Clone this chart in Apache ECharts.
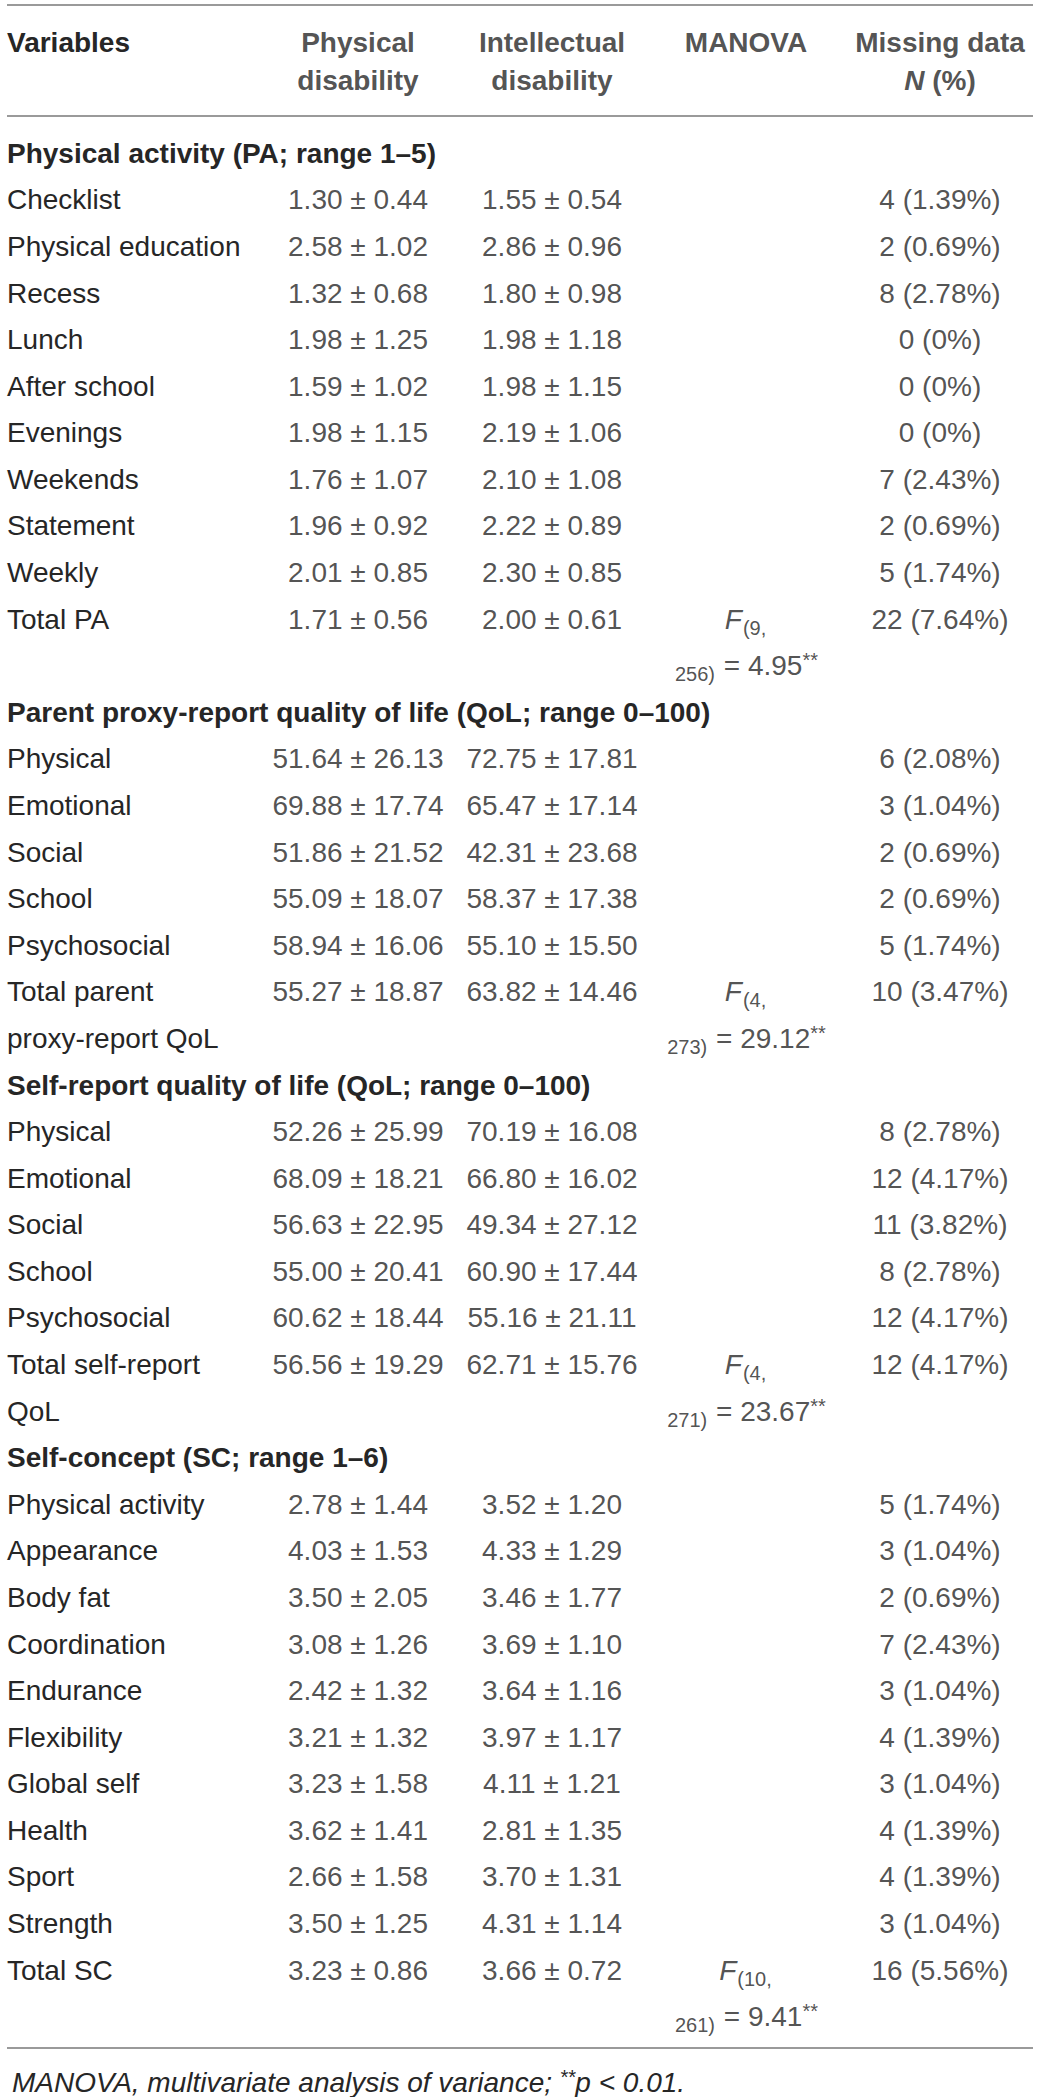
<!DOCTYPE html>
<html>
<head>
<meta charset="utf-8">
<title>PA, QoL and self-concept by disability group</title>
<script src="https://cdn.jsdelivr.net/npm/echarts@6/dist/echarts.min.js"></script>
<style>
  html, body { margin: 0; padding: 0; background: #fff; }
  #main { width: 1040px; height: 2097px; }
</style>
</head>
<body>
<div id="main"></div>
<script>
// ---- table data ----
var colHeads = [['Physical', 'disability'], ['Intellectual', 'disability'], ['MANOVA', ''], ['Missing data', '{i|N} (%)']];

// Physical activity
var paHead = 'Physical activity (PA; range 1–5)';
var paVars = ['Checklist', 'Physical education', 'Recess', 'Lunch', 'After school', 'Evenings', 'Weekends', 'Statement', 'Weekly', 'Total PA'];
var paPhysMean = [1.30, 2.58, 1.32, 1.98, 1.59, 1.98, 1.76, 1.96, 2.01, 1.71];
var paPhysSd = [0.44, 1.02, 0.68, 1.25, 1.02, 1.15, 1.07, 0.92, 0.85, 0.56];
var paIntMean = [1.55, 2.86, 1.80, 1.98, 1.98, 2.19, 2.10, 2.22, 2.30, 2.00];
var paIntSd = [0.54, 0.96, 0.98, 1.18, 1.15, 1.06, 1.08, 0.89, 0.85, 0.61];
var paMissN = [4, 2, 8, 0, 0, 0, 7, 2, 5, 22];
var paMissPct = [1.39, 0.69, 2.78, 0, 0, 0, 2.43, 0.69, 1.74, 7.64];
var paManova = [9, 256, 4.95];

// Parent proxy-report QoL
var pqHead = 'Parent proxy-report quality of life (QoL; range 0–100)';
var pqVars = ['Physical', 'Emotional', 'Social', 'School', 'Psychosocial', 'Total parent\nproxy-report QoL'];
var pqPhysMean = [51.64, 69.88, 51.86, 55.09, 58.94, 55.27];
var pqPhysSd = [26.13, 17.74, 21.52, 18.07, 16.06, 18.87];
var pqIntMean = [72.75, 65.47, 42.31, 58.37, 55.10, 63.82];
var pqIntSd = [17.81, 17.14, 23.68, 17.38, 15.50, 14.46];
var pqMissN = [6, 3, 2, 2, 5, 10];
var pqMissPct = [2.08, 1.04, 0.69, 0.69, 1.74, 3.47];
var pqManova = [4, 273, 29.12];

// Self-report QoL
var sqHead = 'Self-report quality of life (QoL; range 0–100)';
var sqVars = ['Physical', 'Emotional', 'Social', 'School', 'Psychosocial', 'Total self-report\nQoL'];
var sqPhysMean = [52.26, 68.09, 56.63, 55.00, 60.62, 56.56];
var sqPhysSd = [25.99, 18.21, 22.95, 20.41, 18.44, 19.29];
var sqIntMean = [70.19, 66.80, 49.34, 60.90, 55.16, 62.71];
var sqIntSd = [16.08, 16.02, 27.12, 17.44, 21.11, 15.76];
var sqMissN = [8, 12, 11, 8, 12, 12];
var sqMissPct = [2.78, 4.17, 3.82, 2.78, 4.17, 4.17];
var sqManova = [4, 271, 23.67];

// Self-concept
var scHead = 'Self-concept (SC; range 1–6)';
var scVars = ['Physical activity', 'Appearance', 'Body fat', 'Coordination', 'Endurance', 'Flexibility', 'Global self', 'Health', 'Sport', 'Strength', 'Total SC'];
var scPhysMean = [2.78, 4.03, 3.50, 3.08, 2.42, 3.21, 3.23, 3.62, 2.66, 3.50, 3.23];
var scPhysSd = [1.44, 1.53, 2.05, 1.26, 1.32, 1.32, 1.58, 1.41, 1.58, 1.25, 0.86];
var scIntMean = [3.52, 4.33, 3.46, 3.69, 3.64, 3.97, 4.11, 2.81, 3.70, 4.31, 3.66];
var scIntSd = [1.20, 1.29, 1.77, 1.10, 1.16, 1.17, 1.21, 1.35, 1.31, 1.14, 0.72];
var scMissN = [5, 3, 2, 7, 3, 4, 3, 4, 4, 3, 16];
var scMissPct = [1.74, 1.04, 0.69, 2.43, 1.04, 1.39, 1.04, 1.39, 1.39, 1.04, 5.56];
var scManova = [10, 261, 9.41];

var footnote = 'MANOVA, multivariate analysis of variance; {sup|**}p < 0.01.';

var sections = [
  [paHead, paVars, paPhysMean, paPhysSd, paIntMean, paIntSd, paMissN, paMissPct, paManova],
  [pqHead, pqVars, pqPhysMean, pqPhysSd, pqIntMean, pqIntSd, pqMissN, pqMissPct, pqManova],
  [sqHead, sqVars, sqPhysMean, sqPhysSd, sqIntMean, sqIntSd, sqMissN, sqMissPct, sqManova],
  [scHead, scVars, scPhysMean, scPhysSd, scIntMean, scIntSd, scMissN, scMissPct, scManova]
];

// ---- build the lines of the table body ----
var lineLabels = [];
var lineKinds = [];
var cells = [];

function ms(m, s) { return m.toFixed(2) + ' ± ' + s.toFixed(2); }
function miss(n, p) { return n + ' (' + (p === 0 ? '0' : p.toFixed(2)) + '%)'; }

sections.forEach(function (sec) {
  lineLabels.push(sec[0]);
  lineKinds.push('head');
  var vars = sec[1];
  vars.forEach(function (v, i) {
    var row = lineLabels.length;
    var parts = v.split('\n');
    lineLabels.push(parts[0]);
    lineKinds.push('row');
    cells.push([0, row, ms(sec[2][i], sec[3][i])]);
    cells.push([1, row, ms(sec[4][i], sec[5][i])]);
    cells.push([3, row, miss(sec[6][i], sec[7][i])]);
    if (i === vars.length - 1) {
      // total row: MANOVA result wraps onto a second line
      var mv = sec[8];
      cells.push([2, row, '{it|F}{sub|(' + mv[0] + ',}']);
      cells.push([2, row + 1, '{sub|' + mv[1] + ')} = ' + mv[2].toFixed(2) + '{sup|**}']);
      lineLabels.push(parts[1] || '');
      lineKinds.push('row');
    }
  });
});

var headCells = [];
colHeads.forEach(function (h, c) {
  headCells.push([c, 0, h[0]]);
  headCells.push([c, 1, h[1]]);
});

// ---- chart ----
var FONT = '"Liberation Sans", Arial, sans-serif';
var INK = '#262626';
var RULE = '#9a9a9a';
var FS = 28;
var SFS = 20;

var rich = {
  it: { fontStyle: 'italic', fontSize: FS, fontFamily: FONT, color: INK },
  sub: { fontSize: SFS, fontFamily: FONT, color: INK, padding: [17, 1, 0, 1] },
  sup: { fontSize: SFS, fontFamily: FONT, color: INK, padding: [0, 0, 11, 0] },
  i: { fontStyle: 'italic', fontWeight: 'bold', fontSize: FS, fontFamily: FONT, color: INK },
  h: { fontWeight: 'bold', fontSize: FS, fontFamily: FONT, color: INK }
};

var gridLeft = 261, gridWidth = 776;

var chart = echarts.init(document.getElementById('main'), null, { renderer: 'svg' });

chart.setOption({
  animation: false,
  backgroundColor: '#fff',
  title: {
    left: 7,
    top: 2062,
    text: footnote,
    textStyle: {
      fontFamily: FONT, fontSize: FS, fontStyle: 'italic', fontWeight: 'normal', color: INK,
      rich: { sup: { fontFamily: FONT, fontSize: SFS, fontStyle: 'italic', color: INK, padding: [0, 0, 11, 0] } }
    }
  },
  grid: [
    { left: gridLeft, width: gridWidth, top: 23, height: 76 },
    { left: gridLeft, width: gridWidth, top: 130, height: 1910 }
  ],
  xAxis: [
    { gridIndex: 0, type: 'category', data: ['c1', 'c2', 'c3', 'c4'], show: false },
    { gridIndex: 1, type: 'category', data: ['c1', 'c2', 'c3', 'c4'], show: false }
  ],
  yAxis: [
    {
      gridIndex: 0, type: 'category', inverse: true, data: ['Variables', ''],
      axisLine: { show: false }, axisTick: { show: false }, splitLine: { show: false },
      axisLabel: {
        interval: 0, align: 'left', margin: gridLeft - 7,
        fontFamily: FONT, fontSize: FS, fontWeight: 'bold', color: INK
      }
    },
    {
      gridIndex: 1, type: 'category', inverse: true,
      data: lineLabels.map(function (l, i) { return 'line' + i; }),
      axisLine: { show: false }, axisTick: { show: false }, splitLine: { show: false },
      axisLabel: {
        interval: 0, align: 'left', margin: gridLeft - 7,
        fontFamily: FONT, fontSize: FS, color: INK, rich: rich,
        formatter: function (v, i) {
          var t = lineLabels[i];
          return lineKinds[i] === 'head' ? '{h|' + t + '}' : t;
        }
      }
    }
  ],
  graphic: [
    { type: 'line', shape: { x1: 7, y1: 5, x2: 1033, y2: 5 }, style: { stroke: RULE, lineWidth: 2 } },
    { type: 'line', shape: { x1: 7, y1: 116, x2: 1033, y2: 116 }, style: { stroke: RULE, lineWidth: 2 } },
    { type: 'line', shape: { x1: 7, y1: 2048, x2: 1033, y2: 2048 }, style: { stroke: RULE, lineWidth: 2 } }
  ],
  series: [
    {
      type: 'scatter', xAxisIndex: 0, yAxisIndex: 0,
      data: headCells, symbolSize: 1, itemStyle: { color: 'transparent' },
      silent: true,
      label: {
        show: true, position: 'inside', align: 'center', verticalAlign: 'middle',
        fontFamily: FONT, fontSize: FS, fontWeight: 'bold', color: INK, rich: rich,
        formatter: function (p) { return p.data[2]; }
      }
    },
    {
      type: 'scatter', xAxisIndex: 1, yAxisIndex: 1,
      data: cells, symbolSize: 1, itemStyle: { color: 'transparent' },
      silent: true,
      label: {
        show: true, position: 'inside', align: 'center', verticalAlign: 'middle',
        fontFamily: FONT, fontSize: FS, color: INK, rich: rich,
        formatter: function (p) { return p.data[2]; }
      }
    }
  ]
});
</script>
</body>
</html>
